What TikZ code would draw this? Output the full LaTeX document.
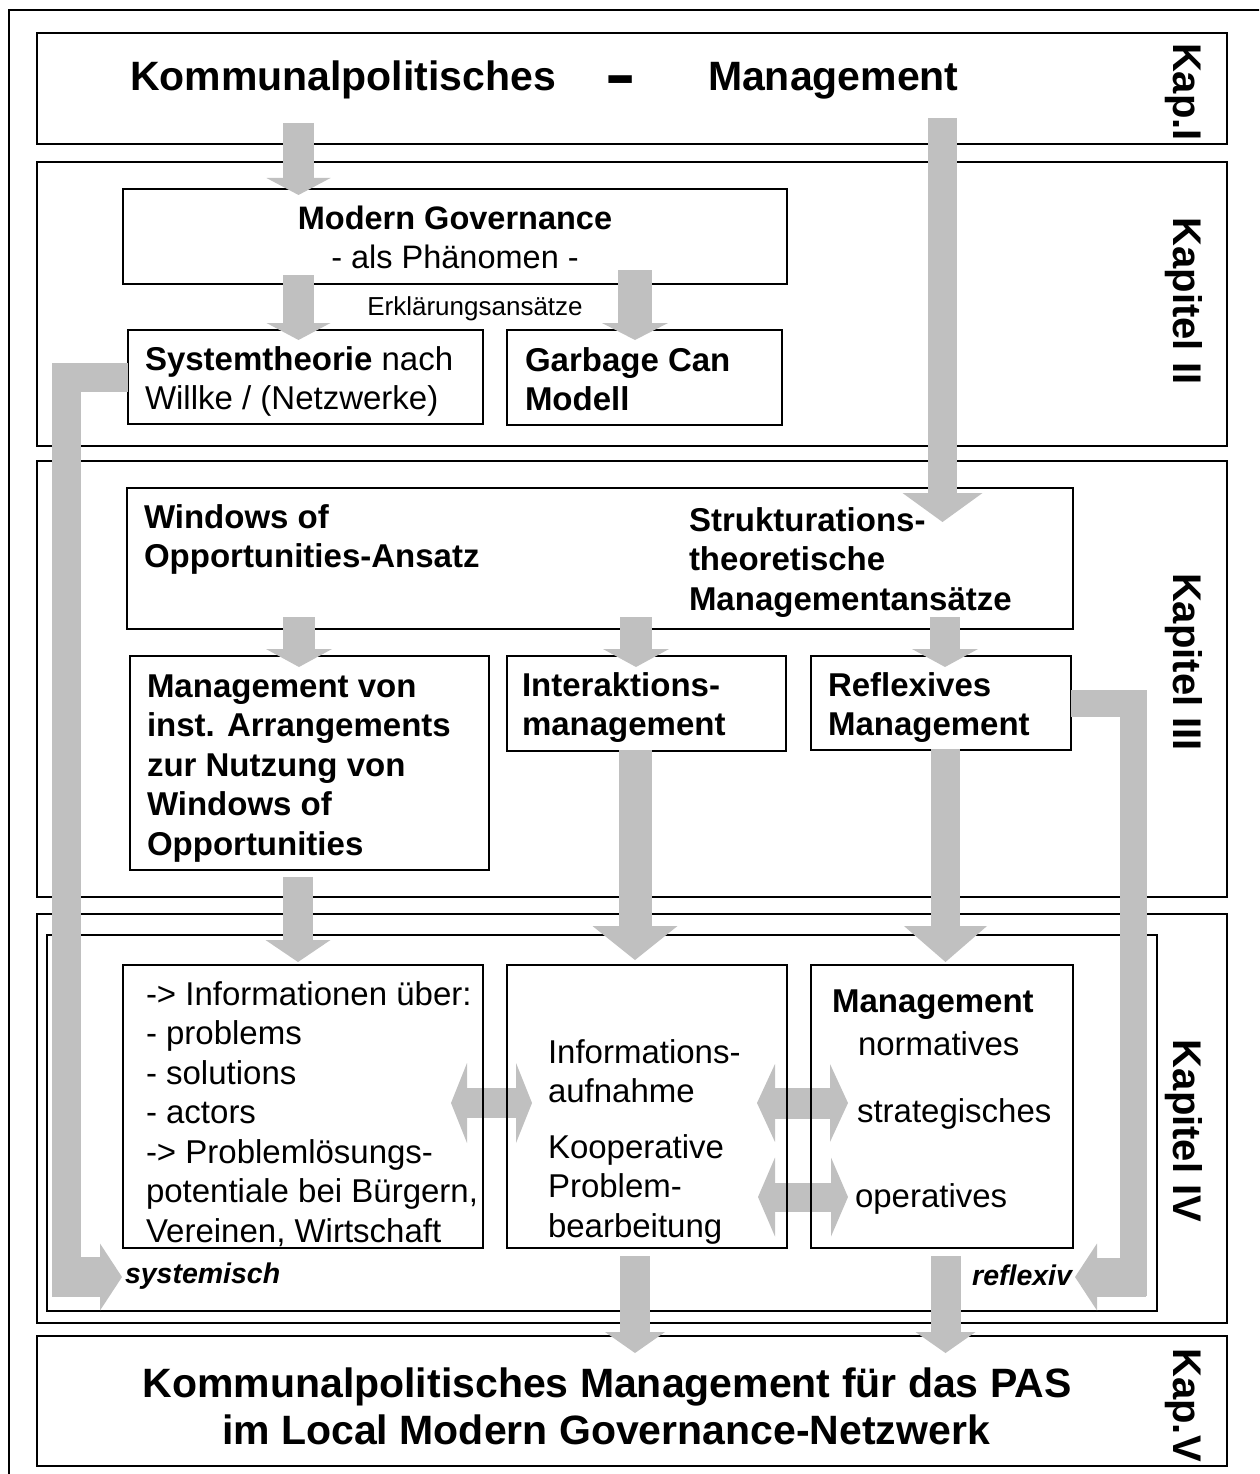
\documentclass[tikz,border=0pt]{standalone}
\usepackage{fontspec}
\setmainfont{Liberation Sans}
\usetikzlibrary{arrows.meta,calc}
\definecolor{ag}{RGB}{192,192,192}
\newcommand\fsz[1]{\fontsize{#1pt}{#1pt}\selectfont}
\newcommand\Lft[1]{\vtop{\baselineskip=39.5pt\lineskiplimit=-100pt\lineskip=0pt\halign{##\hfil\cr#1\crcr}}}
\begin{document}
\begin{tikzpicture}[x=1pt,y=-1pt,
  box/.style={draw, line width=2pt, inner sep=0pt, outer sep=0pt, anchor=north west},
  txt/.style={inner sep=0pt, outer sep=0pt, anchor=base west, font=\fsz{33}},
  btxt/.style={inner sep=0pt, outer sep=0pt, anchor=base west, font=\fsz{33}\bfseries},
  ctxt/.style={inner sep=0pt, outer sep=0pt, anchor=base, font=\fsz{33}},
  chap/.style={inner sep=0pt, outer sep=0pt, anchor=base, rotate=-90, font=\fsz{40}\bfseries},
  fat/.style n args={3}{draw=ag, line width=#1pt, line cap=butt, -{Triangle[width=#2pt,length=#3pt,line width=0pt]}},
  dbl/.style n args={3}{draw=ag, line width=#1pt, line cap=butt, {Triangle[width=#2pt,length=#3pt,line width=0pt]}-{Triangle[width=#2pt,length=#3pt,line width=0pt]}},
  bar/.style={draw=ag, line width=#1pt, line cap=butt, line join=miter},
]
\useasboundingbox (0,0) rectangle (1259,1474);
\clip (0,0) rectangle (1259,1474);
\fill[white] (0,0) rectangle (1259,1474);
% outer frame
\draw[line width=1.5pt] (9,1490) -- (9,10) -- (1275,10);

% chapter boxes
\node[box, minimum width=1190pt, minimum height=111pt] (kap1) at (37,33) {};
\node[box, minimum width=1190pt, minimum height=284pt] (kap2) at (37,162) {};
\node[box, minimum width=1190pt, minimum height=436pt] (kap3) at (37,461) {};
\node[box, minimum width=1190pt, minimum height=409pt] (kap4) at (37,914) {};
\node[box, minimum width=1110pt, minimum height=376pt] (kap4i) at (47,935) {};
\node[box, minimum width=1190pt, minimum height=130pt] (kap5) at (37,1336) {};

% double arrows (behind inner boxes)
\draw[dbl={30}{80}{16}] ($(kap4.north west)+(414,189)$) coordinate (d1a) -- ($(d1a)+(81,0)$) coordinate (d1b);
\draw[dbl={31}{78}{18}] ($(kap4.north west)+(720,189)$) coordinate (d2a) -- ($(d2a)+(91,0)$) coordinate (d2b);
\draw[dbl={29}{79}{17}] ($(kap4.north west)+(721,283)$) coordinate (d3a) -- ($(d3a)+(90,0)$) coordinate (d3b);

% inner boxes
\node[box, minimum width=664pt, minimum height=95pt] (mg) at (123,189) {};
\node[box, minimum width=355pt, minimum height=94pt] (sys) at (128,330) {};
\node[box, minimum width=275pt, minimum height=95pt] (gc) at (507,330) {};
\node[box, minimum width=946pt, minimum height=141pt] (wo) at (127,488) {};
\node[box, minimum width=359pt, minimum height=214pt] (mv) at (130,656) {};
\node[box, minimum width=279pt, minimum height=95pt] (ia) at (507,656) {};
\node[box, minimum width=260pt, minimum height=94pt] (rf) at (811,656) {};
\node[box, minimum width=360pt, minimum height=283pt] (info) at (123,965) {};
\node[box, minimum width=280pt, minimum height=283pt] (mid) at (507,965) {};
\node[box, minimum width=262pt, minimum height=283pt] (mgr) at (811,965) {};

% texts
\node[btxt, font=\fsz{41}\bfseries] (t1a) at (130,91) {Kommunalpolitisches};
\node[inner sep=0pt, outer sep=0pt, anchor=center, font=\fsz{41}\bfseries] (t1d) at (620.5,88) {\scalebox{1.15}[1.9]{–}};
\node[btxt, font=\fsz{41}\bfseries] (t1b) at (708,91) {Management};

\node[ctxt, font=\fsz{32.5}\bfseries] (mgt1) at (455,229) {Modern Governance};
\node[ctxt, font=\fsz{32.5}] (mgt2) at (455,268) {- als Phänomen -};
\node[ctxt, font=\fsz{26}] (erk) at (475,315) {Erklärungsansätze};

\node[txt] (syst) at (145,370) {\Lft{{\bfseries Systemtheorie} nach\cr Willke / (Netzwerke)}};
\node[btxt] (gct) at (525,371) {\Lft{Garbage Can\cr Modell}};

\node[btxt] (wot) at (144,528) {\Lft{Windows of\cr Opportunities-Ansatz}};
\node[btxt] (stt) at (689,531) {\Lft{Strukturations-\cr theoretische\cr Managementansätze}};
\node[btxt] (mvt) at (147,697) {\Lft{Management von\cr inst. Arrangements\cr zur Nutzung von\cr Windows of\cr Opportunities}};
\node[btxt] (iat) at (522,696) {\Lft{Interaktions-\cr management}};
\node[btxt] (rft) at (828,696) {\Lft{Reflexives\cr Management}};

\node[txt] (inft) at (146,1005) {\Lft{-> Informationen über:\cr - problems\cr - solutions\cr - actors\cr -> Problemlösungs-\cr potentiale bei Bürgern,\cr Vereinen, Wirtschaft}};
\node[txt] (midt1) at (548,1063) {\Lft{Informations-\cr aufnahme}};
\node[txt] (midt2) at (548,1158) {\Lft{Kooperative\cr Problem-\cr bearbeitung}};
\node[btxt] (mgrt) at (832,1012) {Management};
\node[txt] (mgr1) at (858,1055) {normatives};
\node[txt] (mgr2) at (857,1122) {strategisches};
\node[txt] (mgr3) at (855,1207) {operatives};

\node[txt, font=\fsz{28.5}\bfseries\itshape] (syslbl) at (125,1283) {systemisch};
\node[inner sep=0pt, outer sep=0pt, anchor=base east, font=\fsz{28.5}\bfseries\itshape] (rflbl) at (1072,1285) {reflexiv};

\node[ctxt, font=\fsz{41}\bfseries] (k5a) at (607,1397) {Kommunalpolitisches Management für das PAS};
\node[ctxt, font=\fsz{41}\bfseries] (k5b) at (606,1444) {im Local Modern Governance-Netzwerk};

\node[chap] (c1) at (1173,92) {Kap.I};
\node[chap] (c2) at (1173,301) {Kapitel II};
\node[chap] (c3) at (1173,662) {Kapitel III};
\node[chap] (c4) at (1173,1131) {Kapitel IV};
\node[chap] (c5) at (1173,1405) {Kap.V};

% fat arrows (on top)
\coordinate (a1s) at (298.5,123);
\coordinate (a2s) at (942.5,118);
\coordinate (a3s) at (298.5,275);
\coordinate (a4s) at (635,270);
\coordinate (a5s) at (299,617);
\coordinate (a6s) at (636,617);
\coordinate (a7s) at (945,617);
\coordinate (a8s) at (298,877);
\coordinate (a9s) at (635,750);
\coordinate (a10s) at (945.5,749);
\coordinate (a11s) at (635,1256);
\coordinate (a12s) at (945.5,1256);

\draw[fat={31}{64}{17}] (a1s) -- ($(mg.north -| a1s)+(0,6)$);
\draw[fat={29}{80}{29}] (a2s) -- ($(wo.north -| a2s)+(0,34)$);
\draw[fat={31}{64}{17}] (a3s) -- ($(sys.north -| a3s)+(0,10)$);
\draw[fat={34}{66}{17}] (a4s) -- ($(gc.north -| a4s)+(0,10)$);
\draw[fat={32}{66}{18}] (a5s) -- ($(mv.north -| a5s)+(0,11)$);
\draw[fat={32}{66}{18}] (a6s) -- ($(ia.north -| a6s)+(0,11)$);
\draw[fat={30}{66}{18}] (a7s) -- ($(rf.north -| a7s)+(0,11)$);
\draw[fat={30}{65}{22}] (a8s) -- ($(info.north -| a8s)+(0,-3)$);
\draw[fat={33}{85}{34}] (a9s) -- ($(mid.north -| a9s)+(0,-5)$);
\draw[fat={29}{83}{36}] (a10s) -- ($(mgr.north -| a10s)+(0,-3)$);
\draw[fat={30}{60}{21}] (a11s) -- ($(kap5.north -| a11s)+(0,17)$);
\draw[fat={30}{60}{21}] (a12s) -- ($(kap5.north -| a12s)+(0,17)$);

% L-shaped arrows
\coordinate (sysdn) at (66.5,1297);
\coordinate (sysbend) at (52,1277);
\coordinate (systip) at (122,1277);
\draw[bar=29] (sys.west) -- (sys.west -| sysdn) -- (sysdn);
\draw[fat={40}{67}{22}] (sysbend) -- (systip);

\coordinate (rfdn) at (1133,1296);
\coordinate (rfbend) at (1146,1277);
\coordinate (rftip) at (1075,1277);
\draw[bar=27] (rf.east) -- (rf.east -| rfdn) -- (rfdn);
\draw[fat={39}{67}{22}] (rfbend) -- (rftip);
\end{tikzpicture}
\end{document}
